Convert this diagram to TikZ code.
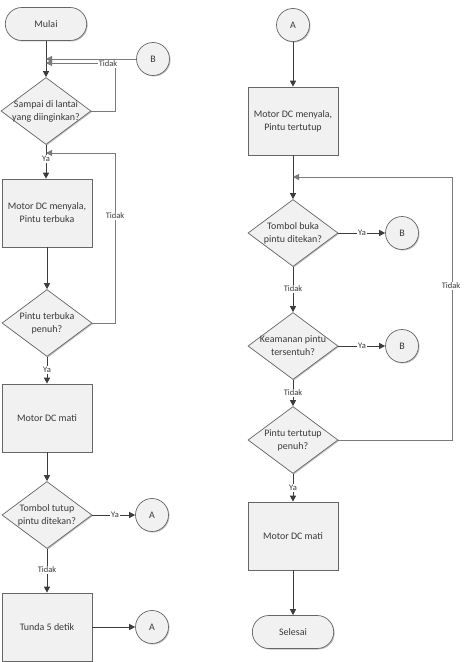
\documentclass[tikz,border=0pt]{standalone}
\usepackage{fontspec}
\setmainfont{Carlito}
\usetikzlibrary{shapes.geometric,shapes.misc,arrows.meta,shadows}
\definecolor{linec}{HTML}{3C3C3C}
\definecolor{loopc}{HTML}{7A7A7A}
\definecolor{borderc}{HTML}{666666}
\definecolor{fillc}{HTML}{F1F1F1}
\definecolor{textc}{HTML}{3A3A3A}
\begin{document}
\begin{tikzpicture}[x=1bp,y=-1bp,
  every node/.style={text=textc, font=\fontsize{10}{13}\selectfont},
  shadowed/.style={drop shadow={shadow xshift=1bp,shadow yshift=-1bp,opacity=0.25,fill=black}},
  procbox/.style={rectangle, draw=borderc, fill=fillc, line width=0.7bp, minimum width=90bp, minimum height=68bp, align=center, inner sep=2bp, shadowed},
  termbox/.style={rounded rectangle, draw=borderc, fill=fillc, line width=0.7bp, minimum width=88bp, minimum height=33bp, shadowed},
  decision/.style={diamond, draw=borderc, fill=fillc, line width=0.7bp, minimum width=90bp, minimum height=67bp, inner sep=0pt, shadowed},
  dtext/.style={align=center, inner sep=0pt, font=\fontsize{10}{13}\selectfont},
  conn/.style={circle, draw=borderc, fill=fillc, line width=0.7bp, minimum size=33bp, inner sep=0pt, shadowed},
  arr/.style={draw=linec, line width=1bp, -{Triangle[length=6bp,width=6bp]}},
  arrl/.style={draw=loopc, line width=0.9bp, -{Triangle[length=6bp,width=6bp]}, color=loopc},
  lbl/.style={fill=white, inner sep=1bp, font=\fontsize{8.5}{10}\selectfont}
]
\useasboundingbox (0,0) rectangle (464,662);
\fill[white] (0,0) rectangle (464,662);

% left column
\node[termbox] (mulai) at (46,24) {Mulai};
\node[conn] (b1) at (153,59) {B};
\node[decision, label={[dtext]center:{Sampai di lantai\\yang diinginkan?}}] (d1) at (46,111) {};
\node[procbox] (box1) at (47,213) {Motor DC menyala,\\Pintu terbuka};
\node[decision, label={[dtext]center:{Pintu terbuka\\penuh?}}] (d2) at (47,323) {};
\node[procbox] (box2) at (47,418) {Motor DC mati};
\node[decision, label={[dtext]center:{Tombol tutup\\pintu ditekan?}}] (d3) at (47,515) {};
\node[conn] (a1) at (152,515) {A};
\node[procbox] (box3) at (47,627) {Tunda 5 detik};
\node[conn] (a2) at (152,627) {A};

\coordinate (t1) at (115,63);
\coordinate (t2) at (115,153);

\draw[arr] (mulai.south) -- (d1.north);
\draw[arrl] (b1.west) -- (b1.west -| mulai.south);
\draw[arrl] (d1.east) -| (t1) -- (t1 -| mulai.south);
\node[lbl] (l1) at (108,64) {Tidak};

\draw[arr] (d1.south) -- (d1.south |- box1.north);
\node[lbl] (l2) at (46,159) {Ya};
\draw[arrl] (d2.east) -| (t2) -- (t2 -| d1.south);
\node[lbl] (l3) at (115,216) {Tidak};

\draw[arr] (box1.south) -- (d2.north);
\draw[arr] (d2.south) -- (box2.north);
\node[lbl] (l4) at (47,370) {Ya};
\draw[arr] (box2.south) -- (d3.north);
\draw[arr] (d3.east) -- (a1.west);
\node[lbl] (l5) at (115,515) {Ya};
\draw[arr] (d3.south) -- (box3.north);
\node[lbl] (l6) at (47,570) {Tidak};
\draw[arr] (box3.east) -- (a2.west);

% right column
\node[conn] (a3) at (293,25) {A};
\node[procbox] (box4) at (293,121) {Motor DC menyala,\\Pintu tertutup};
\node[decision, label={[dtext]center:{Tombol buka\\pintu ditekan?}}] (d4) at (293,233) {};
\node[conn] (b2) at (402,233) {B};
\node[decision, label={[dtext]center:{Keamanan pintu\\tersentuh?}}] (d5) at (293,346) {};
\node[conn] (b3) at (402,346) {B};
\node[decision, label={[dtext]center:{Pintu tertutup\\penuh?}}] (d6) at (293,440) {};
\node[procbox] (box5) at (293,536) {Motor DC mati};
\node[termbox] (selesai) at (293,632) {Selesai};

\coordinate (t3) at (452,177);

\draw[arr] (a3.south) -- (box4.north);
\draw[arr] (box4.south) -- (d4.north);
\draw[arrl] (d6.east) -| (t3) -- (t3 -| d4.north);
\node[lbl] (l7) at (451,286) {Tidak};
\draw[arr] (d4.east) -- (b2.west);
\node[lbl] (l8) at (362,233) {Ya};
\draw[arr] (d4.south) -- (d5.north);
\node[lbl] (l9) at (293,289) {Tidak};
\draw[arr] (d5.east) -- (b3.west);
\node[lbl] (l10) at (362,346) {Ya};
\draw[arr] (d5.south) -- (d6.north);
\node[lbl] (l11) at (293,393) {Tidak};
\draw[arr] (d6.south) -- (box5.north);
\node[lbl] (l12) at (293,488) {Ya};
\draw[arr] (box5.south) -- (selesai.north);
\end{tikzpicture}
\end{document}
